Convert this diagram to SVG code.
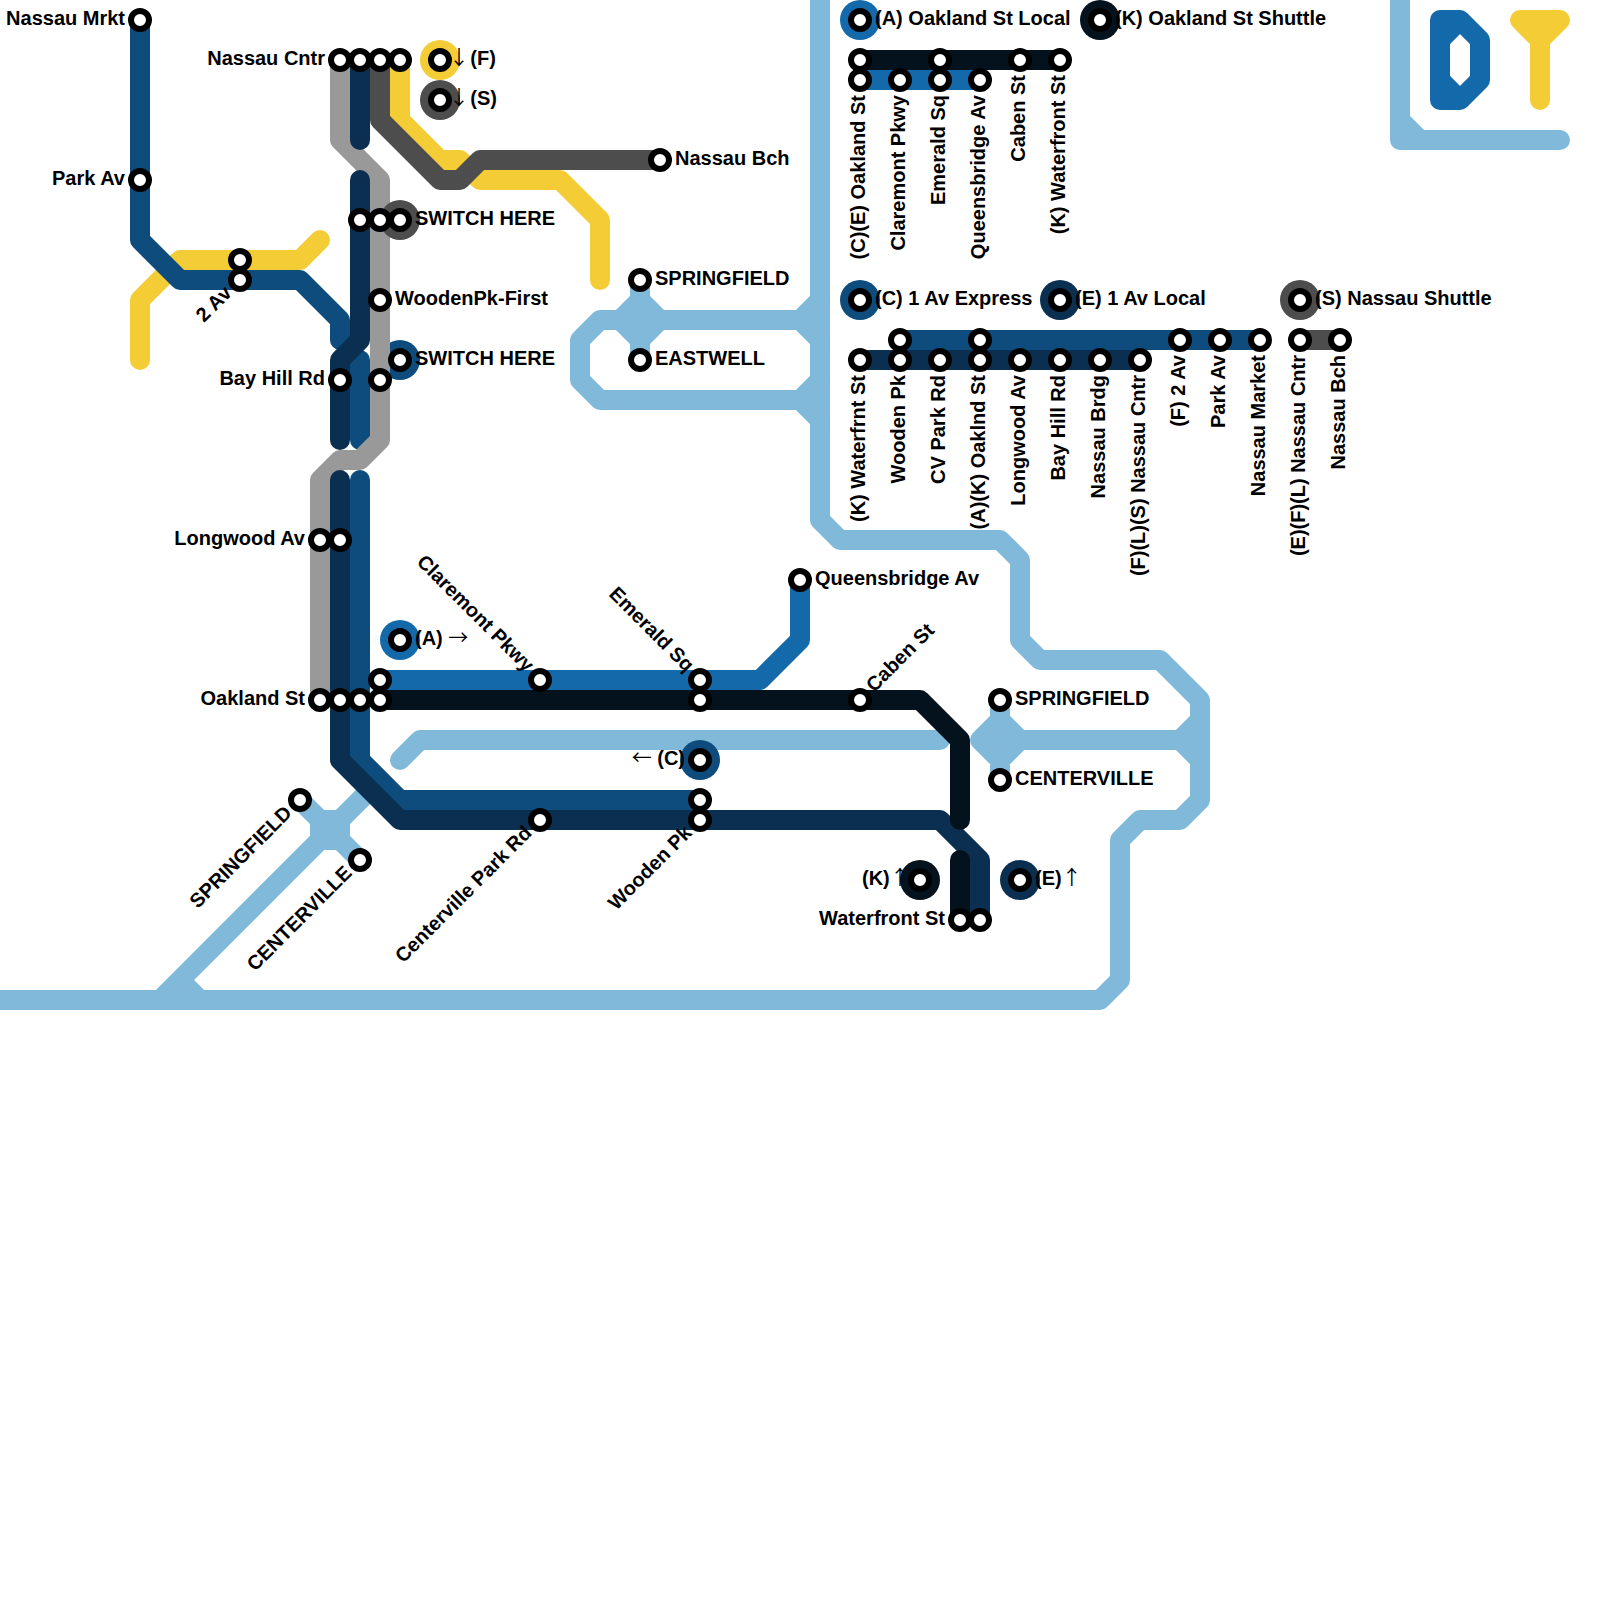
<svg xmlns="http://www.w3.org/2000/svg" width="1600" height="1600" viewBox="0 0 1600 1600">
<style>
.l{fill:none;stroke-width:20;stroke-linecap:round;stroke-linejoin:round}
.riv{stroke:#80b9da}.y{stroke:#f4cc35}.a{stroke:#1469ab}.c{stroke:#0e4c7d}.e{stroke:#0a2f50}.k{stroke:#04121d}.s{stroke:#4d4d4d}.g{stroke:#999999}
.st{fill:#fff;stroke:#000;stroke-width:6}
.hy{fill:#f4cc35}.ha{fill:#1469ab}.hc{fill:#0e4c7d}.he{fill:#0a2f50}.hk{fill:#04121d}.hs{fill:#4d4d4d}
text{font-family:"Liberation Sans",Arial,sans-serif;font-weight:700;font-size:20px;fill:#000}
.r{text-anchor:end}
.ar{font-family:"Noto Sans CJK JP",sans-serif;font-weight:400}
.tight{letter-spacing:-4.2px}
.ws{word-spacing:-5.4px}
</style>
<defs><circle id="st" class="st" r="9"/></defs>
<rect width="1600" height="1600" fill="#fff"/>
<g id="n-switch-2-halo"><circle class="hc" cx="400" cy="360" r="20"/></g>
<g id="connectors">
<path class="l riv" d="M820 0V520L840 540H1000L1020 560V640L1040 660H1160L1200 700V800L1180 820H1140L1120 840V980L1100 1000H0"/>
<path class="l riv" d="M820 300L800 320H600L580 340V380L600 400H800L820 420M800 320L820 340M800 400L820 380"/>
<path class="l riv" d="M640 280V360M640 300L620 320L640 340L660 320Z"/>
<path class="l riv" d="M1000 700V780M1000 720L980 740L1000 760L1020 740ZM1000 740H1180M1200 720L1180 740L1200 760"/>
<path class="l riv" d="M160 1000L380 780M400 760L420 740H940M180 980L200 1000"/>
<path class="l riv" d="M300 800L360 860M320 820H340V840H320Z"/>
<path class="l riv" d="M1400 0V140H1560M1400 120L1420 140"/>
<path class="l a" d="M1460 20L1480 40V80L1460 100L1440 80V40ZM1440 40V20H1460M1440 80V100H1460"/>
<path class="l y" d="M1520 20H1560L1540 40ZM1540 40V100"/>
<path class="l y" d="M140 360V300L180 260H300L320 240"/>
<path class="l c" d="M140 20V240L180 280H300L340 320V340"/>
<path class="l c" d="M360 360V440"/>
<path class="l g" d="M340 60V140L380 180V440L360 460H340L320 480V700"/>
<path class="l y" d="M400 60V120L440 160H460L480 180H560L600 220V280"/>
<path class="l s" d="M380 60V120L440 180H460L480 160H660"/>
<path class="l e" d="M360 60V140"/>
<path class="l e" d="M360 180V340L340 360V440"/>
<path class="l c" d="M360 480V760L400 800H700"/>
<path class="l e" d="M340 480V760L400 820H940L980 860V920"/>
<path class="l a" d="M380 680H760L800 640V580"/>
<path class="l k" d="M380 700H920L960 740V820"/>
<path class="l k" d="M960 860V920"/>
<path class="l a" d="M860 80H980"/>
<path class="l k" d="M860 60H1060"/>
<path class="l c" d="M900 340H1260"/>
<path class="l e" d="M860 360H1140"/>
<path class="l s" d="M1300 340H1340"/>
</g>
<g id="n-nassau-mrkt"><use href="#st" x="140" y="20"/><text class="r" x="125" y="25">Nassau Mrkt</text></g>
<g id="n-park-av"><use href="#st" x="140" y="180"/><text class="r" x="125" y="185">Park Av</text></g>
<g id="n-2av-a"><use href="#st" x="240" y="260"/></g>
<g id="n-2av-b"><use href="#st" x="240" y="280"/><text class="r" transform="translate(240 280) rotate(-45)" x="-15" y="5">2 Av</text></g>
<g id="n-nassau-cntr-1"><use href="#st" x="340" y="60"/><text class="r" x="325" y="65">Nassau Cntr</text></g>
<g id="n-nassau-cntr-2"><use href="#st" x="360" y="60"/></g>
<g id="n-nassau-cntr-3"><use href="#st" x="380" y="60"/></g>
<g id="n-nassau-cntr-4"><use href="#st" x="400" y="60"/></g>
<g id="n-f-down"><circle class="hy" cx="440" cy="60" r="20"/><use href="#st" x="440" y="60"/><text x="449" y="65"><tspan class="ar tight">↓</tspan> (F)</text></g>
<g id="n-s-down"><circle class="hs" cx="440" cy="100" r="20"/><use href="#st" x="440" y="100"/><text x="449" y="105"><tspan class="ar tight">↓</tspan> (S)</text></g>
<g id="n-nassau-bch"><use href="#st" x="660" y="160"/><text x="675" y="165">Nassau Bch</text></g>
<g id="n-switch-1"><circle class="hs" cx="400" cy="220" r="20"/><use href="#st" x="400" y="220"/><text x="415" y="225">SWITCH HERE</text></g>
<g id="n-switch-1b"><use href="#st" x="380" y="220"/></g>
<g id="n-switch-1c"><use href="#st" x="360" y="220"/></g>
<g id="n-wooden-first"><use href="#st" x="380" y="300"/><text x="395" y="305">WoodenPk-First</text></g>
<g id="n-switch-2"><use href="#st" x="400" y="360"/><text x="415" y="365">SWITCH HERE</text></g>
<g id="n-bay-hill"><use href="#st" x="340" y="380"/><text class="r" x="325" y="385">Bay Hill Rd</text></g>
<g id="n-bay-hill-b"><use href="#st" x="380" y="380"/></g>
<g id="n-springfield-1"><use href="#st" x="640" y="280"/><text x="655" y="285">SPRINGFIELD</text></g>
<g id="n-eastwell"><use href="#st" x="640" y="360"/><text x="655" y="365">EASTWELL</text></g>
<g id="n-longwood"><use href="#st" x="320" y="540"/><text class="r" x="305" y="545">Longwood Av</text></g>
<g id="n-longwood-b"><use href="#st" x="340" y="540"/></g>
<g id="n-oakland-1"><use href="#st" x="320" y="700"/><text class="r" x="305" y="705">Oakland St</text></g>
<g id="n-oakland-2"><use href="#st" x="340" y="700"/></g>
<g id="n-oakland-3"><use href="#st" x="360" y="700"/></g>
<g id="n-oakland-4"><use href="#st" x="380" y="700"/></g>
<g id="n-oakland-5"><use href="#st" x="380" y="680"/></g>
<g id="n-a-right"><circle class="ha" cx="400" cy="640" r="20"/><use href="#st" x="400" y="640"/><text x="415" y="645">(A) <tspan class="ar">→</tspan></text></g>
<g id="n-claremont"><use href="#st" x="540" y="680"/><text class="r" transform="translate(540 680) rotate(45)" x="-15" y="5">Claremont Pkwy</text></g>
<g id="n-emerald"><use href="#st" x="700" y="680"/><text class="r" transform="translate(700 680) rotate(45)" x="-15" y="5">Emerald Sq</text></g>
<g id="n-emerald-b"><use href="#st" x="700" y="700"/></g>
<g id="n-caben"><use href="#st" x="860" y="700"/><text transform="translate(860 700) rotate(-45)" x="15" y="5">Caben St</text></g>
<g id="n-queensbridge"><use href="#st" x="800" y="580"/><text x="815" y="585">Queensbridge Av</text></g>
<g id="n-c-left"><circle class="hc" cx="700" cy="760" r="20"/><use href="#st" x="700" y="760"/><text class="r" x="685" y="765"><tspan class="ar">←</tspan> (C)</text></g>
<g id="n-wooden-a"><use href="#st" x="700" y="800"/></g>
<g id="n-wooden-b"><use href="#st" x="700" y="820"/><text class="r" transform="translate(700 820) rotate(-45)" x="-15" y="5">Wooden Pk</text></g>
<g id="n-centerville-park"><use href="#st" x="540" y="820"/><text class="r" transform="translate(540 820) rotate(-45)" x="-15" y="5">Centerville Park Rd</text></g>
<g id="n-springfield-2"><use href="#st" x="300" y="800"/><text class="r" transform="translate(300 800) rotate(-45)" x="-15" y="5">SPRINGFIELD</text></g>
<g id="n-centerville-1"><use href="#st" x="360" y="860"/><text class="r" transform="translate(360 860) rotate(-45)" x="-15" y="5">CENTERVILLE</text></g>
<g id="n-springfield-3"><use href="#st" x="1000" y="700"/><text x="1015" y="705">SPRINGFIELD</text></g>
<g id="n-centerville-2"><use href="#st" x="1000" y="780"/><text x="1015" y="785">CENTERVILLE</text></g>
<g id="n-k-up"><circle class="hk" cx="920" cy="880" r="20"/><use href="#st" x="920" y="880"/><text class="ws" x="862" y="885">(K) <tspan class="ar">↑</tspan></text></g>
<g id="n-e-up"><circle class="he" cx="1020" cy="880" r="20"/><use href="#st" x="1020" y="880"/><text class="ws" x="1035" y="885">(E) <tspan class="ar">↑</tspan></text></g>
<g id="n-waterfront"><use href="#st" x="960" y="920"/><text class="r" x="945" y="925">Waterfront St</text></g>
<g id="n-waterfront-b"><use href="#st" x="980" y="920"/></g>
<g id="l-a"><circle class="ha" cx="860" cy="20" r="20"/><use href="#st" x="860" y="20"/><text x="875" y="25">(A) Oakland St Local</text></g>
<g id="l-k"><circle class="hk" cx="1100" cy="20" r="20"/><use href="#st" x="1100" y="20"/><text x="1115" y="25">(K) Oakland St Shuttle</text></g>
<g id="l-c"><circle class="hc" cx="860" cy="300" r="20"/><use href="#st" x="860" y="300"/><text x="875" y="305">(C) 1 Av Express</text></g>
<g id="l-e"><circle class="he" cx="1060" cy="300" r="20"/><use href="#st" x="1060" y="300"/><text x="1075" y="305">(E) 1 Av Local</text></g>
<g id="l-s"><circle class="hs" cx="1300" cy="300" r="20"/><use href="#st" x="1300" y="300"/><text x="1315" y="305">(S) Nassau Shuttle</text></g>
<g id="s1"><use href="#st" x="860" y="60"/></g>
<g id="s2"><use href="#st" x="940" y="60"/></g>
<g id="s3"><use href="#st" x="1020" y="60"/><text class="r" transform="translate(1020 60) rotate(-90)" x="-15" y="5">Caben St</text></g>
<g id="s4"><use href="#st" x="1060" y="60"/><text class="r" transform="translate(1060 60) rotate(-90)" x="-15" y="5">(K) Waterfront St</text></g>
<g id="s5"><use href="#st" x="860" y="80"/><text class="r" transform="translate(860 80) rotate(-90)" x="-15" y="5">(C)(E) Oakland St</text></g>
<g id="s6"><use href="#st" x="900" y="80"/><text class="r" transform="translate(900 80) rotate(-90)" x="-15" y="5">Claremont Pkwy</text></g>
<g id="s7"><use href="#st" x="940" y="80"/><text class="r" transform="translate(940 80) rotate(-90)" x="-15" y="5">Emerald Sq</text></g>
<g id="s8"><use href="#st" x="980" y="80"/><text class="r" transform="translate(980 80) rotate(-90)" x="-15" y="5">Queensbridge Av</text></g>
<g id="t1"><use href="#st" x="900" y="340"/></g>
<g id="t2"><use href="#st" x="980" y="340"/></g>
<g id="t3"><use href="#st" x="1180" y="340"/><text class="r" transform="translate(1180 340) rotate(-90)" x="-15" y="5">(F) 2 Av</text></g>
<g id="t4"><use href="#st" x="1220" y="340"/><text class="r" transform="translate(1220 340) rotate(-90)" x="-15" y="5">Park Av</text></g>
<g id="t5"><use href="#st" x="1260" y="340"/><text class="r" transform="translate(1260 340) rotate(-90)" x="-15" y="5">Nassau Market</text></g>
<g id="t6"><use href="#st" x="1300" y="340"/><text class="r" transform="translate(1300 340) rotate(-90)" x="-15" y="5">(E)(F)(L) Nassau Cntr</text></g>
<g id="t7"><use href="#st" x="1340" y="340"/><text class="r" transform="translate(1340 340) rotate(-90)" x="-15" y="5">Nassau Bch</text></g>
<g id="u1"><use href="#st" x="860" y="360"/><text class="r" transform="translate(860 360) rotate(-90)" x="-15" y="5">(K) Waterfrnt St</text></g>
<g id="u2"><use href="#st" x="900" y="360"/><text class="r" transform="translate(900 360) rotate(-90)" x="-15" y="5">Wooden Pk</text></g>
<g id="u3"><use href="#st" x="940" y="360"/><text class="r" transform="translate(940 360) rotate(-90)" x="-15" y="5">CV Park Rd</text></g>
<g id="u4"><use href="#st" x="980" y="360"/><text class="r" transform="translate(980 360) rotate(-90)" x="-15" y="5">(A)(K) Oaklnd St</text></g>
<g id="u5"><use href="#st" x="1020" y="360"/><text class="r" transform="translate(1020 360) rotate(-90)" x="-15" y="5">Longwood Av</text></g>
<g id="u6"><use href="#st" x="1060" y="360"/><text class="r" transform="translate(1060 360) rotate(-90)" x="-15" y="5">Bay Hill Rd</text></g>
<g id="u7"><use href="#st" x="1100" y="360"/><text class="r" transform="translate(1100 360) rotate(-90)" x="-15" y="5">Nassau Brdg</text></g>
<g id="u8"><use href="#st" x="1140" y="360"/><text class="r" transform="translate(1140 360) rotate(-90)" x="-15" y="5">(F)(L)(S) Nassau Cntr</text></g>
</svg>
